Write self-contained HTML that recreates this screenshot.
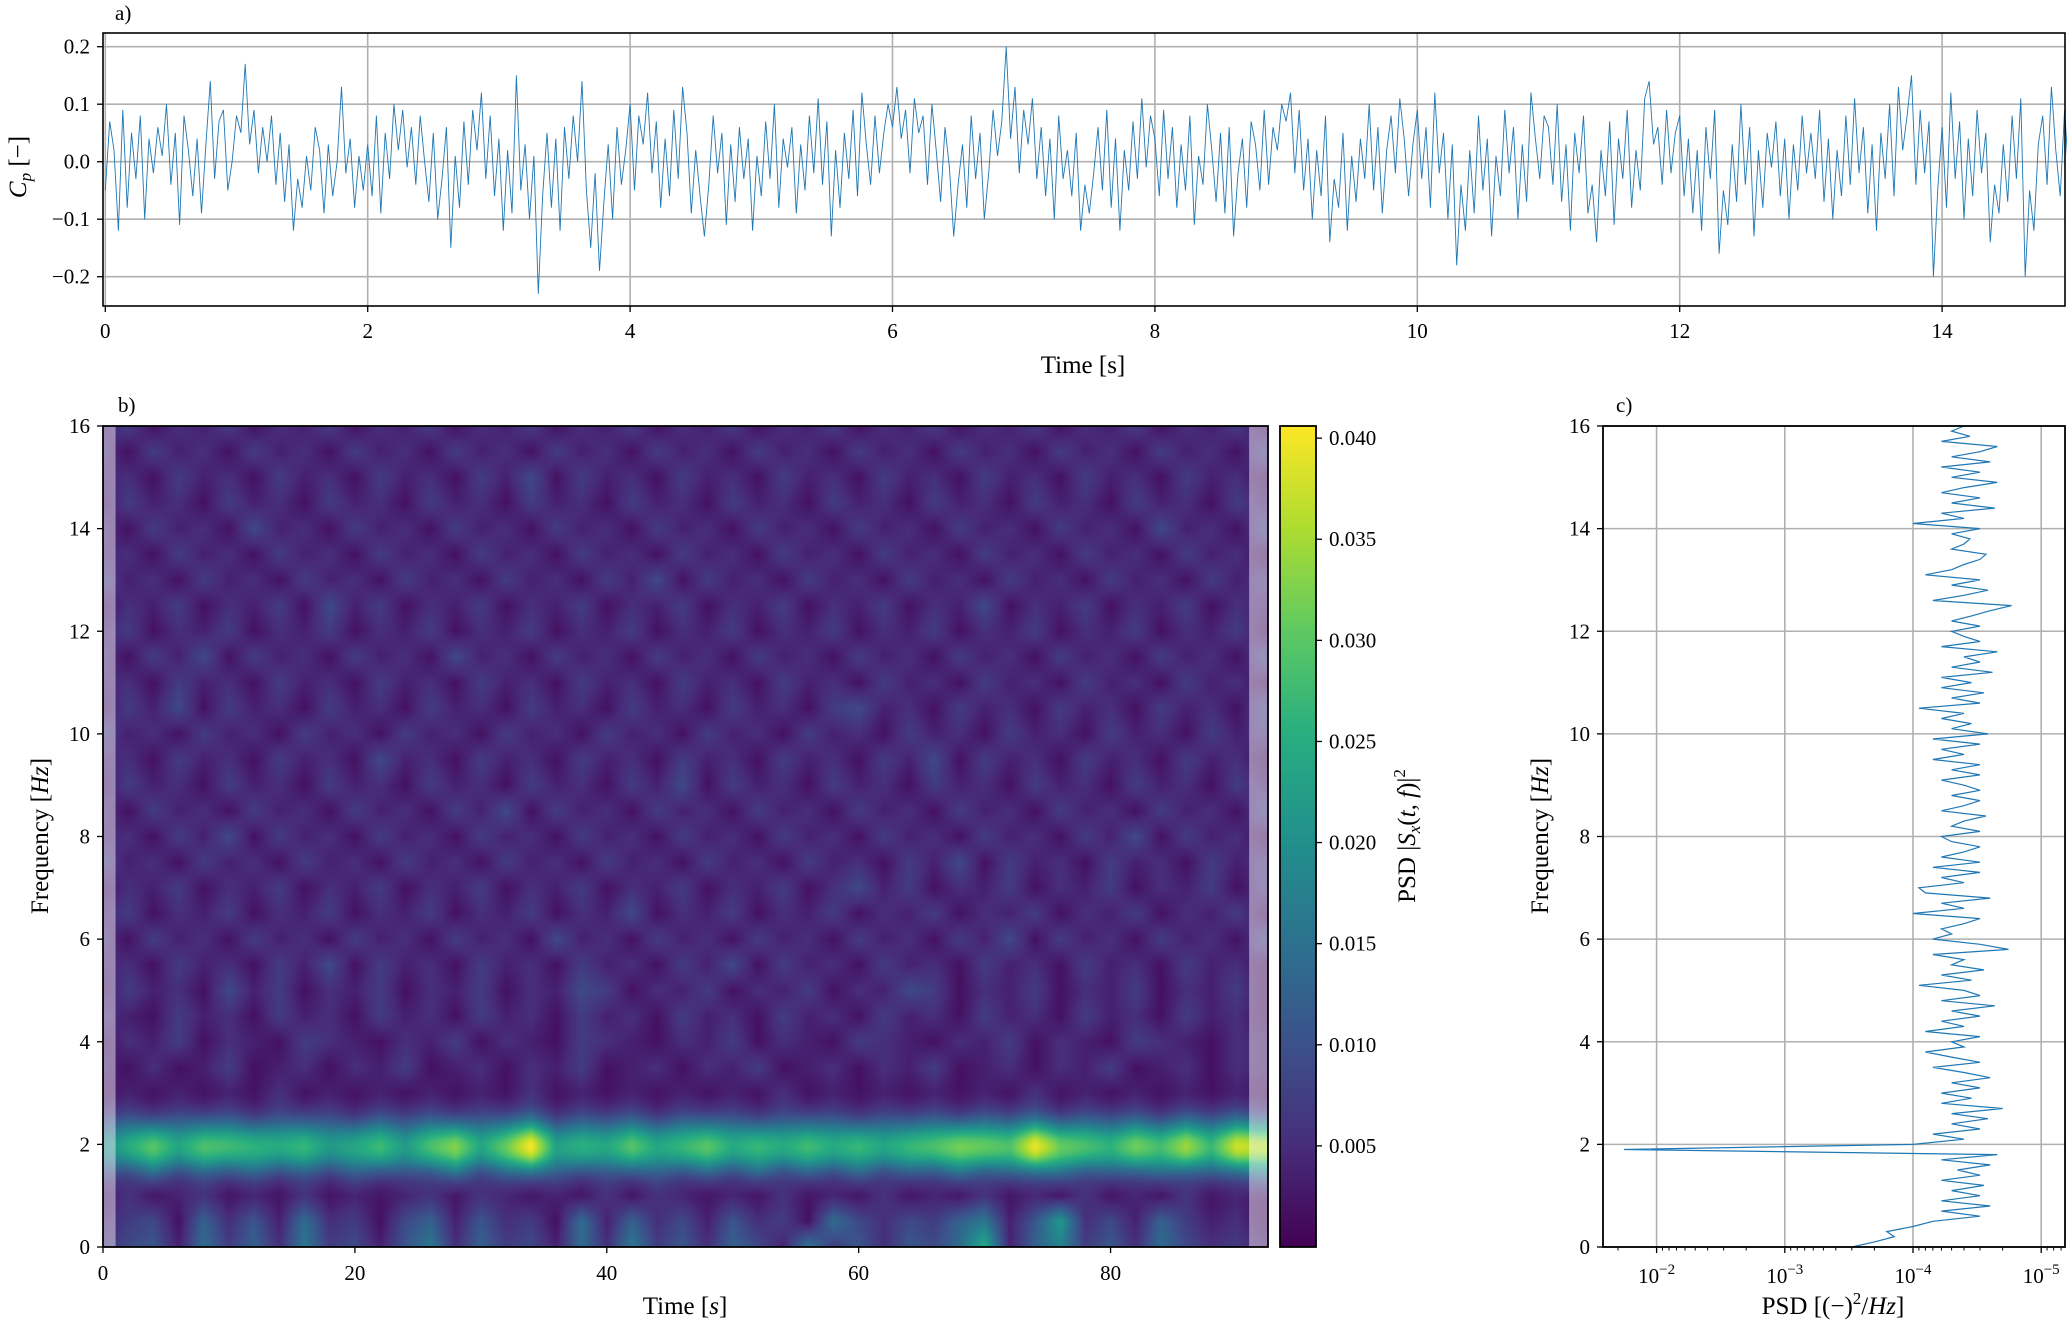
<!DOCTYPE html>
<html><head><meta charset="utf-8">
<style>
html,body{margin:0;padding:0;background:#fff;}
#wrap{position:relative;width:2067px;height:1323px;overflow:hidden;background:#fff;}
#spec{position:absolute;left:103px;top:426px;width:1165px;height:821px;}
#svg{position:absolute;left:0;top:0;}
text{font-family:"Liberation Serif",serif;fill:#000;}
</style></head>
<body>
<div id="wrap">
<canvas id="spec" width="583" height="411"></canvas>
<svg id="svg" width="2067" height="1323" xmlns="http://www.w3.org/2000/svg"></svg>
</div>
<script>
// ---------- Panel a: Cp time series (hundredths), 30 samples per second ----------
const cpHundredths = [
-5,7,2,-12,9,-8,5,-3,8,-10,4,-2,6,1,10,-4,5,-11,8,2,-6,4,-9,3,14,-3,7,9,-5,0,
8,5,17,3,9,-2,6,0,8,-4,5,-7,3,-12,-3,-8,1,-5,6,2,-9,3,-6,0,13,-2,4,-8,1,-5,
3,-6,8,-9,5,-3,10,2,9,-1,6,-4,8,0,-7,5,-10,-3,6,-15,1,-8,7,-4,9,2,12,-3,8,-6,
4,-12,2,-9,15,-5,3,-10,1,-23,-6,5,-8,4,-12,6,-3,8,0,14,-5,-15,-2,-19,-7,3,-10,6,-4,2,
10,-5,8,3,12,-2,7,-8,4,-6,9,-3,13,5,-9,2,-6,-13,-4,8,-2,5,-11,3,-7,6,-3,4,-12,1,
-6,7,-3,10,-8,4,-1,6,-9,3,-5,8,-2,11,-4,7,-13,2,-8,5,-3,9,-6,12,3,-4,8,-2,5,10,
6,13,4,9,-2,11,5,8,-4,10,2,-7,6,-1,-13,-4,3,-8,8,-3,5,-10,-2,9,1,7,20,4,13,-2,
9,3,11,-3,6,-6,4,-10,8,-3,2,-6,5,-12,-4,-9,-2,6,-5,9,-8,4,-12,2,-5,7,-3,11,-1,8,
4,-6,9,-3,6,-8,3,-5,8,-11,1,-4,10,2,-7,5,-9,6,-13,-2,4,-8,7,3,-5,9,-4,6,2,10,
7,12,-2,9,-5,4,-10,2,-6,8,-14,-3,-8,5,-12,1,-7,4,-3,10,-5,6,-9,2,8,-2,11,4,-6,3,
9,-3,6,-8,12,-2,5,-10,3,-18,-4,-12,2,-9,8,-5,4,-13,1,-6,9,-2,6,-10,3,-7,12,4,-3,8,
6,-4,10,-7,3,-12,5,-2,8,-9,-4,-14,2,-6,7,-11,4,-3,9,-8,2,-5,11,14,3,6,-4,9,-2,5,
8,-6,4,-9,2,-12,6,-3,9,-16,-5,-11,3,-7,10,-4,6,-13,2,-8,5,-1,7,-6,4,-10,3,-5,8,-2,
5,-3,9,-7,4,-10,2,-6,8,-4,11,-2,6,-9,3,-12,5,-3,10,-6,13,2,8,15,-4,9,-2,7,-20,-5,
6,-8,12,-3,7,-10,4,-6,9,-2,5,-14,-4,-9,3,-7,8,-3,11,-20,-5,-12,3,8,-4,13,2,-6,9,-3
];
const cpRate = 30;
const aXTicks = [0,2,4,6,8,10,12,14];
const aYTicks = [0.2,0.1,0.0,-0.1,-0.2];
const aYLabels = ["0.2","0.1","0.0","\u22120.1","\u22120.2"];

// ---------- Panel b: spectrogram ----------
const specTimes = []; for (let i=0;i<47;i++) specTimes.push(i*2);   // 0..92
const bandPeak = [0.017,0.022,0.028,0.021,0.027,0.025,0.024,0.022,0.025,0.019,0.022,0.025,0.020,0.026,0.031,0.021,0.029,0.038,0.021,0.023,0.022,0.027,0.022,0.024,0.028,0.022,0.025,0.022,0.026,0.022,0.025,0.021,0.025,0.026,0.030,0.028,0.027,0.037,0.029,0.026,0.024,0.029,0.026,0.032,0.025,0.035,0.034];
const bandFreq = 1.95;
// background level rows (hex digit * 0.0018), f = 0, 0.5, ... 16
const bgRows = [
"35628473945269374528394637529463658e27a46385342",
"24517362834157263418273526341853547926c35274231",
"13123121312123132121313212131213121312131213121",
"21312131213121312131213121312131213121312131213",
"23232323232323232323232323232323232323232323232",
"23132313231323132313231323132313231323132313231",
"12121213121212121312121212131212121213121212121",
"21312412313241231324123132412313241231324123132",
"13241321432132413214321324132143213241321432132",
"32142314231423142314231423142314231423142314231",
"14231524132413241325413241324132541324132413241",
"23142314251423142314231425142314231423142314231",
"31423142314231423152314231423142314251423142314",
"24132413241324132413251324132413241324132413241",
"13241324132413241324132413241352413241324132413",
"42314231423142314231423142314231425142314231423",
"23142514231423142314231423142314231423142514231",
"31423142314231425142314231423142314231423142314",
"14231423142314231423142514231423142314231423142",
"23142314231523142314231423142314251423142314231",
"42314231423142314231423142314231423142314231423",
"14251423142314231423142314231452314231423142314",
"23142314231423142314231423142314231423142314231",
"31425142314231523142314231423142314231423142314",
"24132413241324132413241324132413241324132413241",
"13241324152413241324132413241324132513241324132",
"42314231423142314231425142314231423142314231423",
"23142314231423142314231423142314231423142314231",
"31423152314231423142314231423142314231423152314",
"14231423142314231423142314231423142314231423142",
"23142314231423142514231423142314231423142314231",
"31423142314231423142314231423142314231423142314",
"24132413241324132413241324132413241324132413241"
];
const cbTicks = [0.005,0.010,0.015,0.020,0.025,0.030,0.035,0.040];
const bXTicks = [0,20,40,60,80];
const fTicks = [0,2,4,6,8,10,12,14,16];

// ---------- Panel c: PSD (units of 1e-5), f = 0..16 step 0.1 ----------
const psdE5 = [
30,20,14,16,10,7,3,6,2.5,6,
3,5,2.8,6,3,4.5,2.5,6,2.2,
1800,10,
4,7,3,5,2.6,5,2,6,3.5,
6,3,5,2.5,4,7,3,5,8,4,
5,3,8,4,6,3,5,2.3,6,3,
4,9,3.5,6,2.8,5,4,7,1.8,3,
7,5,6,4,3,10,4,6,2.5,8,
9,4,6,3,7,3,6,4,3,5,
6,3,5,4,2.7,6,4,3,5,3,
4,6,3,5,3,7,4,6,3,7,
2.6,5,3.5,6,4,9,3,5,2.8,6,
3.5,6,2.4,5,3,4,2.2,6,3,4,
5,3,5,3.5,2.5,1.7,7,4,2.6,5,
3,8,5,4,3,2.7,5,4,3.6,5,
3,10,4,6,2.3,5,3,6,4,2.2,
5,3,6,2.5,5,3,2.2,6,3.6,5,
4];
const psdStep = 0.1;
const cXDecades = [-2,-3,-4,-5];

// ---------- helpers ----------
const NS = "http://www.w3.org/2000/svg";
const svg = document.getElementById('svg');
function el(tag, attrs, parent){ const e=document.createElementNS(NS,tag); for(const k in attrs) e.setAttribute(k,attrs[k]); (parent||svg).appendChild(e); return e; }
function txt(s, x, y, opts, parent){ const t=el('text',Object.assign({x:x,y:y,'font-size':21},opts||{}),parent); t.textContent=s; return t; }
const GRID = '#b0b0b0';

// viridis
const vir = [[68,1,84],[71,45,123],[59,82,139],[44,114,142],[33,145,140],[40,174,128],[94,201,98],[173,220,48],[253,231,37]];
function viridis(u){ u=Math.max(0,Math.min(1,u)); const p=u*8; const i=Math.min(7,Math.floor(p)); const f=p-i; const a=vir[i], b=vir[i+1]; return [a[0]+(b[0]-a[0])*f,a[1]+(b[1]-a[1])*f,a[2]+(b[2]-a[2])*f]; }

// ================= PANEL A =================
const A = {l:103, r:2065, t:33, b:306};
const ax = t => 105.3 + t*131.2;
const ay = v => 161.7 - v*575;
const gA = el('g',{});
aXTicks.forEach(t=>{
  const g=el('line',{x1:ax(t),x2:ax(t),y1:A.t,y2:A.b,stroke:GRID,'stroke-width':1.6},gA);
   
  el('line',{x1:ax(t),x2:ax(t),y1:A.b,y2:A.b+6,stroke:'#000','stroke-width':1.3},gA);
  const l=txt(String(t),ax(t),338,{'text-anchor':'middle'},gA);
   
});
aYTicks.forEach((v,i)=>{
  el('line',{x1:A.l,x2:A.r,y1:ay(v),y2:ay(v),stroke:GRID,'stroke-width':1.6},gA);
  el('line',{x1:A.l-6,x2:A.l,y1:ay(v),y2:ay(v),stroke:'#000','stroke-width':1.3},gA);
  const l=txt(aYLabels[i],90,ay(v)+7,{'text-anchor':'end'},gA);
   
});
let dA='';
cpHundredths.forEach((v,i)=>{ const x=ax(i/cpRate), y=ay(v/100); dA+=(i?'L':'M')+x.toFixed(1)+' '+y.toFixed(1); });
const lineA = el('path',{d:dA,fill:'none',stroke:'#1f77b4','stroke-width':0.9},gA);
 
el('rect',{x:A.l,y:A.t,width:A.r-A.l,height:A.b-A.t,fill:'none',stroke:'#000','stroke-width':1.6},gA);
const ta=txt('a)',115,20,{'font-size':21},gA);  
const xla=txt('Time [s]',1083,373,{'text-anchor':'middle','font-size':25},gA);  
const yla=el('text',{x:0,y:0,'font-size':25,'text-anchor':'middle',transform:'translate(26,167) rotate(-90)'},gA);
yla.innerHTML='<tspan font-style="italic">C</tspan><tspan font-style="italic" font-size="17" dy="5">p</tspan><tspan dy="-5"> [\u2212]</tspan>';
 

// ================= PANEL B =================
const B = {l:103, r:1268, t:426, b:1247, tmax:92.5, fmax:16};
const bx = t => B.l + t/B.tmax*(B.r-B.l);
const by = f => B.b - f/B.fmax*(B.b-B.t);
const vmax = 0.0406;
(function drawSpec(){
  const cv=document.getElementById('spec'); const ctx=cv.getContext('2d');
  const W=cv.width,H=cv.height; const img=ctx.createImageData(W,H);
  const nC=specTimes.length, nR=bgRows.length;
  function bg(r,c){ const ch=(bgRows[r]||'').charAt(c)||'2'; return parseInt(ch,16)*0.0018; }
  for(let py=0;py<H;py++){
    const f=(1-(py+0.5)/H)*B.fmax; const rr=f/0.5; const r0=Math.min(nR-2,Math.floor(rr)); const fr=rr-r0;
    const gw=Math.exp(-Math.pow(f-bandFreq,2)/(2*0.36*0.36));
    for(let px=0;px<W;px++){
      const t=(px+0.5)/W*B.tmax; const cc=t/2; const c0=Math.min(nC-2,Math.floor(cc)); const fc=Math.min(1,cc-c0);
      const v00=bg(r0,c0),v01=bg(r0,c0+1),v10=bg(r0+1,c0),v11=bg(r0+1,c0+1);
      const bgv=(v00*(1-fc)+v01*fc)*(1-fr)+(v10*(1-fc)+v11*fc)*fr;
      const bp=bandPeak[c0]*(1-fc)+bandPeak[c0+1]*fc;
      const val=bgv*(1-0.5*gw)+bp*gw;
      const col=viridis(val/vmax); const k=(py*W+px)*4;
      img.data[k]=col[0];img.data[k+1]=col[1];img.data[k+2]=col[2];img.data[k+3]=255;
    }
  }
  ctx.putImageData(img,0,0);
})();
const gB = el('g',{});
const ov1=el('rect',{x:bx(0),y:B.t,width:bx(1)-bx(0),height:B.b-B.t,fill:'rgba(255,255,255,0.45)'},gB);
 
const ov2=el('rect',{x:bx(91),y:B.t,width:B.r-bx(91),height:B.b-B.t,fill:'rgba(255,255,255,0.45)'},gB);
 
el('rect',{x:B.l,y:B.t,width:B.r-B.l,height:B.b-B.t,fill:'none',stroke:'#000','stroke-width':1.8},gB);
bXTicks.forEach(t=>{
  el('line',{x1:bx(t),x2:bx(t),y1:B.b,y2:B.b+6,stroke:'#000','stroke-width':1.3},gB);
  const l=txt(String(t),bx(t),1280,{'text-anchor':'middle'},gB);
   
});
fTicks.forEach(f=>{
  el('line',{x1:B.l-6,x2:B.l,y1:by(f),y2:by(f),stroke:'#000','stroke-width':1.3},gB);
  const l=txt(String(f),90,by(f)+7,{'text-anchor':'end'},gB);
   
});
const tb=txt('b)',118,412,{},gB);  
const xlb=el('text',{x:685,y:1314,'font-size':25,'text-anchor':'middle'},gB);
xlb.innerHTML='Time [<tspan font-style="italic">s</tspan>]';
 
const ylb=el('text',{x:0,y:0,'font-size':25,'text-anchor':'middle',transform:'translate(48,836) rotate(-90)'},gB);
ylb.innerHTML='Frequency [<tspan font-style="italic">Hz</tspan>]';
 

// colorbar
const CB={l:1280,r:1316,t:426,b:1247};
const cby = v => CB.b - v/vmax*(CB.b-CB.t);
const defs=el('defs',{});
const grad=el('linearGradient',{id:'vg',x1:0,y1:1,x2:0,y2:0},defs);
vir.forEach((c,i)=>el('stop',{offset:(i/8),'stop-color':'rgb('+c.join(',')+')'},grad));
const gC = el('g',{});
el('rect',{x:CB.l,y:CB.t,width:CB.r-CB.l,height:CB.b-CB.t,fill:'url(#vg)',stroke:'#000','stroke-width':1.8},gC);
cbTicks.forEach(v=>{
  el('line',{x1:CB.r,x2:CB.r+6,y1:cby(v),y2:cby(v),stroke:'#000','stroke-width':1.3},gC);
  const l=txt(v.toFixed(3),1329,cby(v)+7,{},gC);
   
});
const cbl=el('text',{x:0,y:0,'font-size':25,'text-anchor':'middle',transform:'translate(1415,836) rotate(-90)'},gC);
cbl.innerHTML='PSD |<tspan font-style="italic">S</tspan><tspan font-style="italic" font-size="17" dy="5">x</tspan><tspan dy="-5">(<tspan font-style="italic">t, f</tspan>)|</tspan><tspan font-size="17" dy="-10">2</tspan>';
 

// ================= PANEL C =================
const Cc={l:1603,r:2065,t:426,b:1247};
const cx = v => 1656.6 + (-2 - Math.log10(v))*128.2;
const cy = f => Cc.b - f/16*(Cc.b-Cc.t);
const gP = el('g',{});
cXDecades.forEach(d=>{
  const x=cx(Math.pow(10,d));
  el('line',{x1:x,x2:x,y1:Cc.t,y2:Cc.b,stroke:GRID,'stroke-width':1.6},gP);
  el('line',{x1:x,x2:x,y1:Cc.b,y2:Cc.b+6,stroke:'#000','stroke-width':1.3},gP);
  const l=el('text',{x:x,y:1283,'font-size':21,'text-anchor':'middle'},gP);
  l.innerHTML='10<tspan font-size="15" dy="-9">\u2212'+(-d)+'</tspan>';
   
});
for(let d=-6; d<=-1; d++){ for(let m=2;m<=9;m++){ const x=cx(m*Math.pow(10,d)); if(x>Cc.l && x<Cc.r) el('line',{x1:x,x2:x,y1:Cc.b,y2:Cc.b+3.5,stroke:'#000','stroke-width':1},gP); } }
fTicks.forEach(f=>{
  el('line',{x1:Cc.l,x2:Cc.r,y1:cy(f),y2:cy(f),stroke:GRID,'stroke-width':1.6},gP);
  el('line',{x1:Cc.l-6,x2:Cc.l,y1:cy(f),y2:cy(f),stroke:'#000','stroke-width':1.3},gP);
  const l=txt(String(f),1590,cy(f)+7,{'text-anchor':'end'},gP);
   
});
let dC='';
psdE5.forEach((v,i)=>{ const x=cx(v*1e-5), y=cy(i*psdStep); dC+=(i?'L':'M')+x.toFixed(1)+' '+y.toFixed(1); });
const lineC=el('path',{d:dC,fill:'none',stroke:'#1f77b4','stroke-width':1.2},gP);
 
el('rect',{x:Cc.l,y:Cc.t,width:Cc.r-Cc.l,height:Cc.b-Cc.t,fill:'none',stroke:'#000','stroke-width':1.8},gP);
const tc=txt('c)',1616,412,{},gP);  
const xlc=el('text',{x:1833,y:1314,'font-size':25,'text-anchor':'middle'},gP);
xlc.innerHTML='PSD [(\u2212)<tspan font-size="17" dy="-10">2</tspan><tspan dy="10">/</tspan><tspan font-style="italic">Hz</tspan>]';
 
const ylc=el('text',{x:0,y:0,'font-size':25,'text-anchor':'middle',transform:'translate(1548,836) rotate(-90)'},gP);
ylc.innerHTML='Frequency [<tspan font-style="italic">Hz</tspan>]';
 
</script>
</body></html>
